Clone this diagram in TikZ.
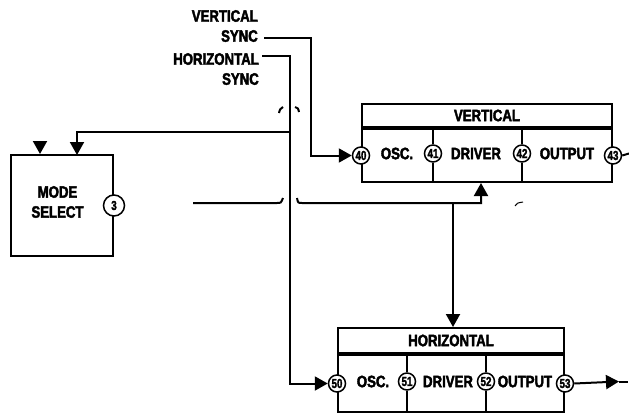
\documentclass[tikz,border=0pt]{standalone}
\usepackage{fontspec}
\setmainfont{Liberation Sans}[FakeStretch=0.8, BoldFeatures={FakeBold=2.5}]
\newfontfamily\numfont{Liberation Sans}[FakeStretch=0.75, BoldFeatures={FakeBold=2}]
\usetikzlibrary{arrows.meta}
\tikzset{
  box/.style={draw, line width=2pt, inner sep=0pt},
  lbl/.style={font=\fontsize{16.5}{20}\selectfont\bfseries, inner sep=0pt},
  num/.style={circle, draw, line width=1.5pt, fill=white, minimum size=17pt, inner sep=0pt, font=\numfont\fontsize{13}{13}\selectfont\bfseries},
  wire/.style={line width=2pt},
  arr/.style={-{Triangle[length=13pt,width=14pt]}}
}
\begin{document}
\begin{tikzpicture}[x=1pt,y=-1pt]
	\useasboundingbox (0,0) rectangle (629,413);
	% mode select
	\node[box,minimum width=102pt,minimum height=101pt] (mode) at (62,205.5) {};
	\node[lbl,align=center] (modetxt) at (57.5,202) {MODE\\SELECT};
	\node[num,minimum size=21pt] (c3) at (mode.east) {3};
	% vertical
	\node[box,lbl,minimum width=250pt,minimum height=23pt] (vtitle) at (487,115.5) {VERTICAL};
	\node[box,minimum width=250pt,minimum height=53pt,anchor=north] (vbody) at (vtitle.south) {};
	\node[num] (c40) at (vbody.west) {40};
	\node[num] (c41) at (433,153.5) {41};
	\node[num] (c42) at (522,153.5) {42};
	\node[num] (c43) at (vbody.east) {43};
	\draw[wire] (c41.north) -- (c41 |- vbody.north);
	\draw[wire] (c41.south) -- (c41 |- vbody.south);
	\draw[wire] (c42.north) -- (c42 |- vbody.north);
	\draw[wire] (c42.south) -- (c42 |- vbody.south);
	\node[lbl] (vosc) at (397,153.5) {OSC.};
	\node[lbl] (vdrv) at (476,153.5) {DRIVER};
	\node[lbl] (vout) at (567,153.5) {OUTPUT};
	% horizontal
	\node[box,lbl,minimum width=226pt,minimum height=25pt] (htitle) at (451,340.5) {HORIZONTAL};
	\node[box,minimum width=226pt,minimum height=57pt,anchor=north] (hbody) at (htitle.south) {};
	\node[num] (c50) at (hbody.west) {50};
	\node[num] (c51) at (407,381.5) {51};
	\node[num] (c52) at (486,381.5) {52};
	\node[num] (c53) at (hbody.east) {53};
	\draw[wire] (c51.north) -- (c51 |- hbody.north);
	\draw[wire] (c51.south) -- (c51 |- hbody.south);
	\draw[wire] (c52.north) -- (c52 |- hbody.north);
	\draw[wire] (c52.south) -- (c52 |- hbody.south);
	\node[lbl] (hosc) at (373,381.5) {OSC.};
	\node[lbl] (hdrv) at (448,381.5) {DRIVER};
	\node[lbl] (hout) at (525,381.5) {OUTPUT};
	% sync inputs
	\node[lbl,align=right,anchor=north east] (vsync) at (258,10) {VERTICAL\\SYNC};
	\node[lbl,align=right,anchor=north east] (hsync) at (259,53) {HORIZONTAL\\SYNC};
	\coordinate (vsyncin) at (264,38);
	\coordinate (vbend) at (311,38);
	\coordinate (hsyncin) at (262,56);
	\coordinate (hbend) at (290,56);
	\draw[wire,arr] (vsyncin) -- (vbend) |- (c40.west);
	\draw[wire,arr] (hsyncin) -- (hbend) |- (c50.west);
	% mode inputs
	\coordinate (modea) at (40,141);
	\coordinate (modeb) at (77,155);
	\coordinate (jmode) at (290,132);
	\draw[wire,arr] (modea) -- (mode.north -| modea);
	\draw[wire,arr] (jmode) -| (modeb);
	% driver feed with hop
	\coordinate (drvin) at (193,203);
	\coordinate (drvbend) at (481,203);
	\coordinate (hlink) at (453,203);
	\draw[wire] (drvin) -- (277,203) .. controls (281,203) .. (283,198);
	\draw[wire,arr] (297,198) .. controls (298,203) .. (302,203) -- (drvbend) -- (vbody.south -| drvbend);
	\draw[wire,arr] (hlink) -- (htitle.north -| hlink);
	% outputs
	\coordinate (vend) at (629,153.5);
	\coordinate (hmid) at (619,381.5);
	\coordinate (hend) at (628,381.5);
	\draw[wire] (c43.east) -- (vend);
	\draw[wire,arr] (c53.east) -- (hmid);
	\draw[wire] (hmid) -- (hend);
	%marks
	\draw[wire] (279,113) .. controls (280,109) .. (283,107);
	\draw[wire] (295,107) .. controls (298,108) .. (299,112);
	\draw[line width=1pt] (515,206) .. controls (517,203) .. (523,202);
\end{tikzpicture}
\end{document}
